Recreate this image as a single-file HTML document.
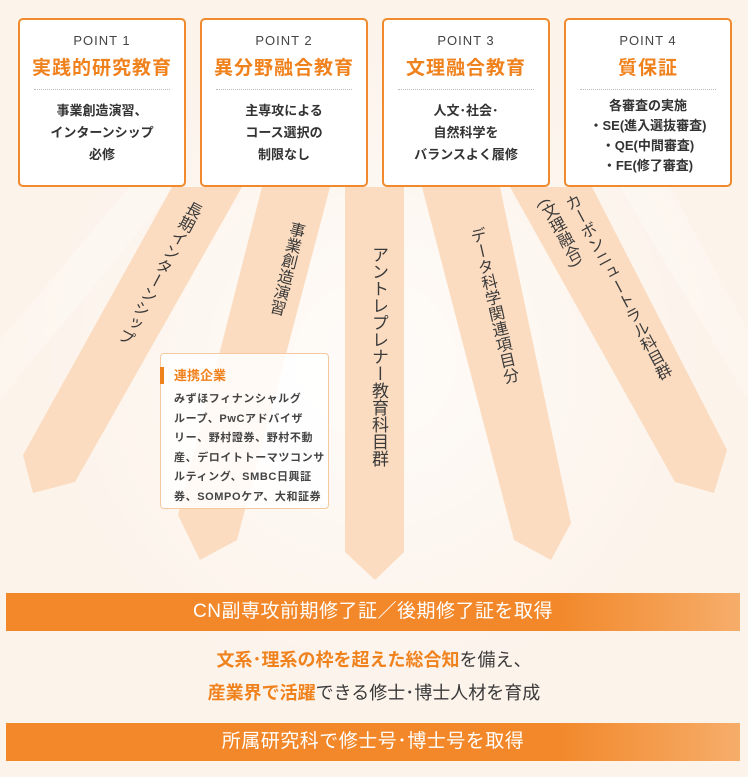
<!DOCTYPE html>
<html><head><meta charset="utf-8"><style>
*{margin:0;padding:0;box-sizing:border-box}
body{width:748px;height:777px;overflow:hidden;position:relative;background:#fcf3ea;font-family:"Liberation Sans","Noto Sans CJK JP",sans-serif;color:#3a3a3a}
.bg{position:absolute;left:0;top:0}
.box{position:absolute;top:18px;width:168px;height:169px;background:#fff;border:2.5px solid #f08a2c;border-radius:5px;text-align:center}
.pt{position:absolute;top:13px;left:0;right:0;font-size:13px;letter-spacing:1px;color:#444}
.tt{position:absolute;top:33px;left:0;right:0;font-size:19px;font-weight:bold;color:#f0821e;letter-spacing:1px}
.dl{position:absolute;top:69px;left:14px;right:14px;border-top:1.5px dotted #bbb}
.bd{position:absolute;top:80px;left:0;right:0;font-size:13px;line-height:22px;font-weight:bold;color:#333}
.lab{position:absolute;writing-mode:vertical-rl;font-size:16px;color:#3a3a3a;white-space:nowrap;transform-origin:center center}
.bar{position:absolute;left:6px;width:734px;height:38px;background:linear-gradient(90deg,#f2882a 0%,#f2882a 75%,#f6ad6a 100%);color:#fff;font-size:19px;text-align:center;line-height:38px;letter-spacing:0.5px}
.o{color:#f0821e;font-weight:bold}
</style></head><body>
<svg class="bg" width="748" height="777">
<defs><radialGradient id="g" cx="375" cy="360" r="360" gradientUnits="userSpaceOnUse"><stop offset="0" stop-color="#fff" stop-opacity="0.7"/><stop offset="1" stop-color="#fff" stop-opacity="0"/></radialGradient></defs>
<rect width="748" height="777" fill="#fcf3ea"/>
<rect width="748" height="777" fill="url(#g)"/>
<polygon points="130,187 175,187 0,400 0,340" fill="#fff" opacity="0.25"/>
<polygon points="620,187 670,187 748,330 748,400" fill="#fff" opacity="0.25"/>
<g fill="#fbdcc0">
<polygon points="172,187 242,187 75,482 33,493 23,455"/>
<polygon points="262,187 330,187 237,540 200,560 178,515"/>
<polygon points="345,187 404,187 404,552 375,580 345,552"/>
<polygon points="422,187 500,187 571,523 551,560 514,540"/>
<polygon points="510,187 592,187 727,450 714,493 675,482"/>
</g>
</svg>

<div class="box" style="left:18px"><div class="pt">POINT 1</div><div class="tt">実践的研究教育</div><div class="dl"></div><div class="bd">事業創造演習、<br>インターンシップ<br>必修</div></div>
<div class="box" style="left:200px"><div class="pt">POINT 2</div><div class="tt">異分野融合教育</div><div class="dl"></div><div class="bd">主専攻による<br>コース選択の<br>制限なし</div></div>
<div class="box" style="left:382px"><div class="pt">POINT 3</div><div class="tt">文理融合教育</div><div class="dl"></div><div class="bd">人文･社会･<br>自然科学を<br>バランスよく履修</div></div>
<div class="box" style="left:564px"><div class="pt">POINT 4</div><div class="tt">質保証</div><div class="dl"></div><div class="bd" style="top:76px;line-height:20px">各審査の実施<br>・SE(進入選抜審査)<br>・QE(中間審査)<br>・FE(修了審査)</div></div>

<div class="lab" style="left:146px;top:192px;transform:rotate(28deg)">長期インターンシップ</div>
<div class="lab" style="left:273px;top:220px;transform:rotate(14deg)">事業創造演習</div>
<div class="lab" style="left:366px;top:246px;font-size:17px">アントレプレナー教育科目群</div>
<div class="lab" style="left:480px;top:226px;transform:rotate(-13deg)">データ科学関連項目分</div>
<div class="lab" style="left:604px;top:184px;transform:rotate(-28deg)">カーボンニュートラル科目群</div>
<div class="lab" style="left:547px;top:196px;transform:rotate(-28deg)">(文理融合)</div>

<div style="position:absolute;left:160px;top:353px;width:169px;height:156px;background:rgba(255,255,255,0.85);border:1px solid #f5c9a0;border-radius:4px">
<div style="position:absolute;left:-1px;top:13px;width:4px;height:17px;background:#f0821e"></div>
<div style="position:absolute;left:13px;top:11px;font-size:13px;font-weight:bold;color:#f0821e">連携企業</div>
<div style="position:absolute;left:13px;top:36px;font-size:11px;line-height:19.5px;font-weight:bold;color:#444;letter-spacing:0.6px;white-space:nowrap">みずほフィナンシャルグ<br>ループ、PwCアドバイザ<br>リー、野村證券、野村不動<br>産、デロイトトーマツコンサ<br>ルティング、SMBC日興証<br>券、SOMPOケア、大和証券</div>
</div>

<div class="bar" style="top:593px">CN副専攻前期修了証／後期修了証を取得</div>
<div style="position:absolute;left:0;width:748px;top:644px;text-align:center;font-size:18px;line-height:33px;color:#3a3a3a"><span class="o">文系･理系の枠を超えた総合知</span>を備え、<br><span class="o">産業界で活躍</span>できる修士･博士人材を育成</div>
<div class="bar" style="top:723px">所属研究科で修士号･博士号を取得</div>
</body></html>
